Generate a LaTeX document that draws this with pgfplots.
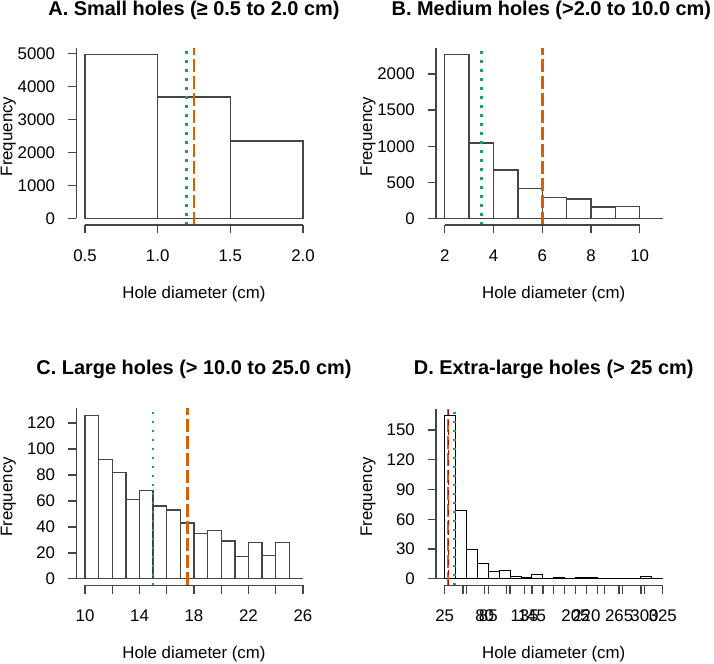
\documentclass[border=0pt]{standalone}
\usepackage{fontspec}
\setmainfont{Liberation Sans}
\usepackage{pgfplots}
\pgfplotsset{compat=1.18}
\definecolor{dkgreen}{HTML}{1B9E77}
\definecolor{dkorange}{HTML}{D95F02}
\definecolor{lc}{gray}{0.27}

\tikzset{axl/.style={lc, line width=1.4bp}}
\pgfplotsset{
  rhist/.style={
    anchor=south west, scale only axis, width=235.4bp, height=176.8bp,
    axis x line*=bottom, axis y line*=left,
    axis line style={draw=none},
    tick align=outside, major tick length=8.5bp,
    tick style={lc, line width=1.4bp},
    scaled ticks=false,
    /pgf/number format/1000 sep={},
    /pgf/number format/assume math mode=true,
    tick label style={font=\fontsize{16.9}{20}\selectfont, inner sep=0pt},
    xticklabel style={anchor=base, yshift=-27.8bp},
    yticklabel style={anchor=east, xshift=-12.5bp},
    xlabel={Hole diameter (cm)},
    ylabel={Frequency},
    label style={font=\fontsize{16.9}{20}\selectfont},
    xlabel style={at={(axis description cs:0.5,-0.3903)}, anchor=center},
    ylabel style={at={(axis description cs:-0.289,0.5)}, anchor=center},
    title style={font=\bfseries\fontsize{20}{24}\selectfont, anchor=base},
    clip=false,
  },
  bars/.style={ybar interval, fill=white, draw=lc, line width=1.4bp},
  medline/.style={dkgreen, line width=2.7bp, dash pattern=on 2.6bp off 6.4bp},
  meanline/.style={dkorange, line width=2.7bp, dash pattern=on 13bp off 4bp},
}

\begin{document}
\begin{tikzpicture}
\path[use as bounding box] (0,0) rectangle (714bp,664bp);

% ---------- A ----------
\begin{axis}[rhist, at={(76.3bp,439.1bp)},
  xmin=0.44, xmax=2.06, ymin=-198.4, ymax=5158.4,
  xtick={0.5,1,1.5,2}, xticklabels={0.5,1.0,1.5,2.0},
  ytick={0,1000,2000,3000,4000,5000},
  title={A. Small holes (≥ 0.5 to 2.0 cm)},
  title style={at={(axis description cs:0.5,1.1478)}, anchor=base},
]
\addplot[bars] coordinates {(0.5,4970) (1.0,3680) (1.5,2340) (2.0,2340)};
\addplot[medline] coordinates {(1.20,-198.4) (1.20,5158.4)};
\addplot[meanline] coordinates {(1.25,-198.4) (1.25,5158.4)};
\draw[axl] (axis cs:0.5,-198.4) -- (axis cs:2,-198.4);
\draw[axl] (axis cs:0.44,0) -- (axis cs:0.44,5158.4);
\end{axis}

% ---------- B ----------
\begin{axis}[rhist, at={(436bp,439.1bp)},
  xmin=1.642, xmax=11.3, ymin=-90.8, ymax=2360.8,
  xtick={2,4,6,8,10},
  ytick={0,500,1000,1500,2000},
  title={B. Medium holes (>2.0 to 10.0 cm)},
  title style={at={(axis description cs:0.49,1.1478)}, anchor=base},
]
\addplot[axl] coordinates {(1.642,0) (10.94,0)};
\addplot[bars] coordinates {(2,2270) (3,1047) (4,673) (5,410) (6,285) (7,267) (8,156) (9,161) (10,161)};
\addplot[medline] coordinates {(3.5,-90.8) (3.5,2360.8)};
\addplot[meanline] coordinates {(6.0,-90.8) (6.0,2360.8)};
\draw[axl] (axis cs:2,-90.8) -- (axis cs:10,-90.8);
\draw[axl] (axis cs:1.642,0) -- (axis cs:1.642,2360.8);
\end{axis}

% ---------- C ----------
\begin{axis}[rhist, at={(76.3bp,78.7bp)},
  xmin=9.36, xmax=26.64, ymin=-5.05, ymax=131.25,
  xtick={10,12,...,26}, xticklabels={10,,14,,18,,22,,26},
  ytick={0,20,...,120},
  title={C. Large holes (> 10.0 to 25.0 cm)},
  title style={at={(axis description cs:0.5,1.1568)}, anchor=base},
]
\addplot[axl] coordinates {(9.36,0) (26,0)};
\addplot[bars] coordinates {(10,126) (11,92) (12,82) (13,61) (14,68) (15,56) (16,53) (17,43) (18,35) (19,37) (20,29) (21,17) (22,28) (23,18) (24,28) (25,28)};
\addplot[medline] coordinates {(15.0,-5.05) (15.0,131.25)};
\addplot[meanline] coordinates {(17.5,-5.05) (17.5,131.25)};
\draw[axl] (axis cs:10,-5.05) -- (axis cs:26,-5.05);
\draw[axl] (axis cs:9.36,0) -- (axis cs:9.36,131.25);
\end{axis}

% ---------- D ----------
\begin{axis}[rhist, at={(436bp,78.7bp)},
  xmin=13, xmax=337, ymin=-6.6, ymax=171.6,
  xtick={25,55,...,325}, xticklabels={25,,85,,145,,205,,265,,325},
  extra x ticks={50,80,110,135,160,190,220,245,270,300},
  extra x tick labels={,80,,135,,,220,,,300},
  ytick={0,30,...,150},
  title={D. Extra-large holes (> 25 cm)},
  title style={at={(axis description cs:0.5,1.1568)}, anchor=base},
]
\addplot[axl] coordinates {(13,0) (325,0)};
\addplot[ybar interval, fill=white, draw=black, line width=1bp] coordinates {(25,165) (40,69) (55,29) (70,15) (85,7) (100,8) (115,2) (130,1) (145,4) (160,0) (175,1) (190,0) (205,1) (220,1) (235,0) (250,0) (265,0) (280,0) (295,2) (310,0) (325,0)};
\addplot[meanline] coordinates {(29.5,-6.6) (29.5,171.6)};
\addplot[red!75!black, line width=0.9bp, dash pattern=on 5bp off 5bp] coordinates {(30.5,-6.6) (30.5,171.6)};
\addplot[medline] coordinates {(38,-6.6) (38,171.6)};
\draw[axl] (axis cs:25,-6.6) -- (axis cs:325,-6.6);
\draw[axl] (axis cs:13,0) -- (axis cs:13,171.6);
\end{axis}
\end{tikzpicture}
\end{document}
